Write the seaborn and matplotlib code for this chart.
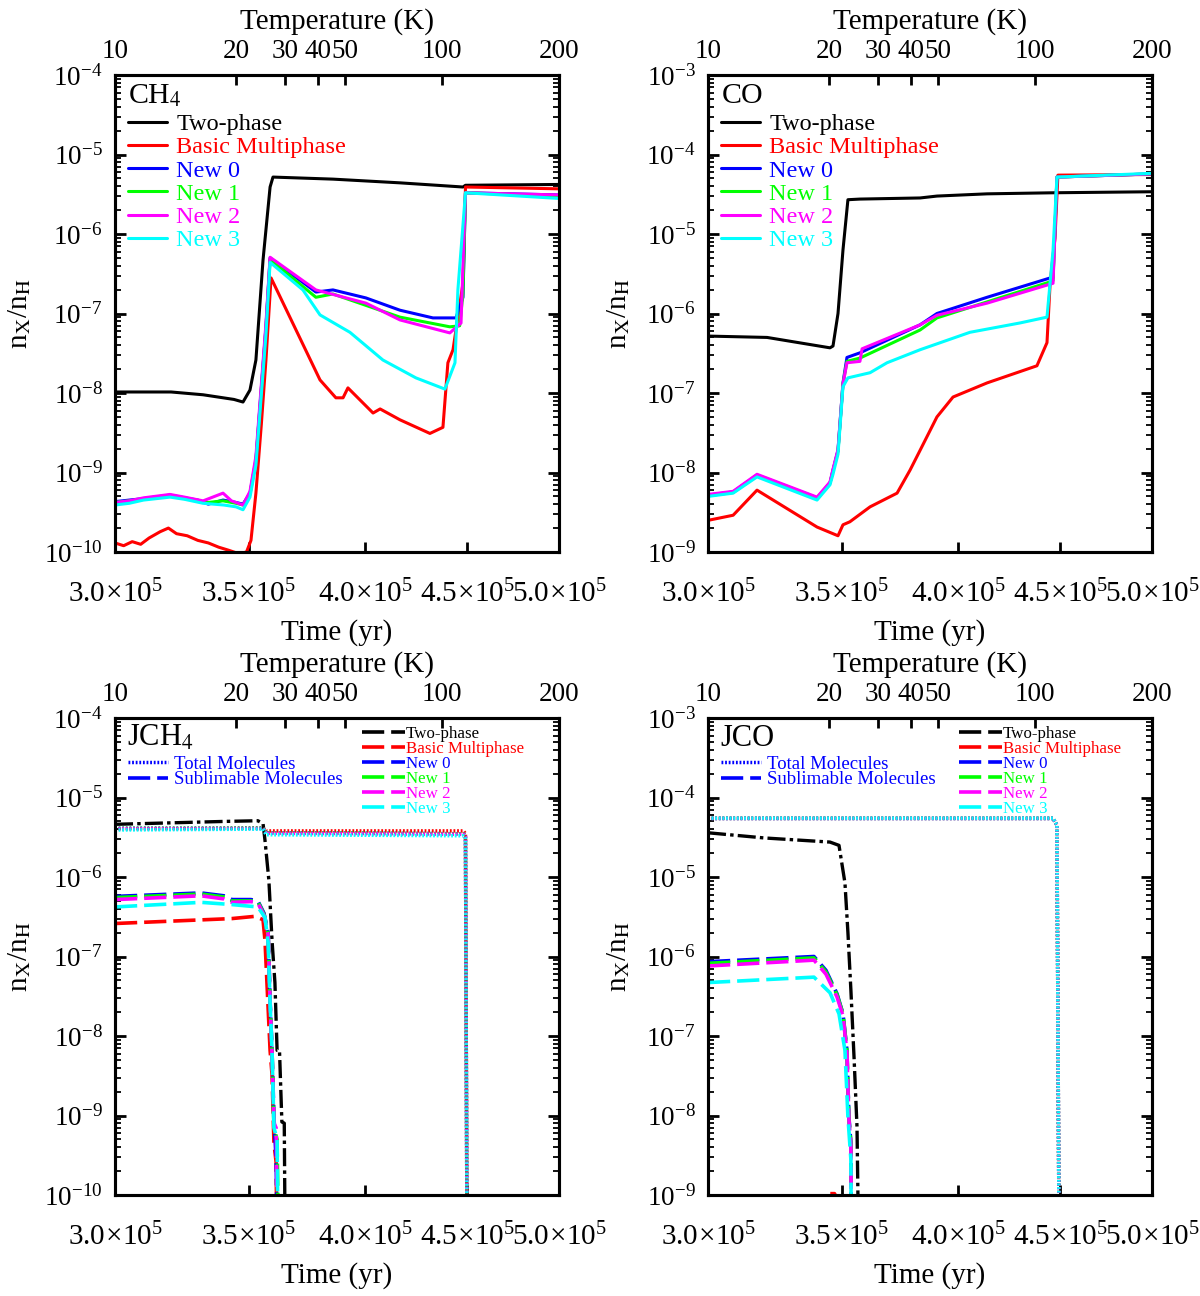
import numpy as np
import matplotlib
matplotlib.use("Agg")
import matplotlib.pyplot as plt
from matplotlib.lines import Line2D
from matplotlib.ticker import FixedLocator, FixedFormatter, NullLocator, LogLocator, LogFormatterSciNotation
import seaborn as sns

sns.set_theme(style="ticks", rc={"axes.edgecolor": "black", "xtick.color": "black",
                                 "ytick.color": "black", "text.color": "black",
                                 "axes.labelcolor": "black"})
plt.rcParams['font.family'] = ['Liberation Serif', 'DejaVu Serif']
plt.rcParams['mathtext.fontset'] = 'stix'
plt.rcParams['lines.scale_dashes'] = False
plt.rcParams['axes.linewidth'] = 2.2

# ---------------- labels / ticks ----------------
MODELS = ["Two-phase", "Basic Multiphase", "New 0", "New 1", "New 2", "New 3"]
COLORS = ["#000000", "#FF0000", "#0000FF", "#00FF00", "#FF00FF", "#00FFFF"]
time_ticks_1e5 = [3.0, 3.5, 4.0, 4.5, 5.0]
time_tick_labels = [r"$\mathdefault{3.0\!\times\!10^{5}}$", r"$\mathdefault{3.5\!\times\!10^{5}}$",
                    r"$\mathdefault{4.0\!\times\!10^{5}}$", r"$\mathdefault{4.5\!\times\!10^{5}}$",
                    r"$\mathdefault{5.0\!\times\!10^{5}}$"]
temp_tick_labels = ["10", "20", "30", "40", "50", "100", "200"]
temp_tick_times_1e5 = [3.00, 3.45, 3.65, 3.79, 3.91, 4.37, 5.00]

# ---------------- CH4 gas (times in 1e5 yr) ----------------
ch4_two_t = [3.00, 3.20, 3.32, 3.44, 3.476, 3.504, 3.528, 3.557, 3.586, 3.598, 3.855, 4.164, 4.477, 4.49, 5.00]
ch4_two_v = [1.03e-8, 1.03e-8, 9.5e-9, 8.3e-9, 7.7e-9, 1.09e-8, 2.6e-8, 4.7e-7, 3.9e-6, 5.2e-6, 4.9e-6, 4.4e-6, 3.9e-6, 4.1e-6, 4.2e-6]
ch4_bm_t = [3.00, 3.03, 3.06, 3.09, 3.12, 3.16, 3.19, 3.22, 3.26, 3.30, 3.34, 3.38, 3.42, 3.46, 3.49, 3.508, 3.528, 3.55, 3.569, 3.59,
            3.798, 3.868, 3.90, 3.922, 4.037, 4.070, 4.164, 4.31, 4.375, 4.40, 4.426, 4.477, 4.49, 5.00]
ch4_bm_v = [1.3e-10, 1.2e-10, 1.35e-10, 1.25e-10, 1.5e-10, 1.8e-10, 2.0e-10, 1.7e-10, 1.6e-10, 1.4e-10, 1.3e-10, 1.15e-10, 1.05e-10,
            0.95e-10, 1.0e-10, 1.4e-10, 5.5e-10, 4.0e-9, 2.6e-8, 2.8e-7, 1.46e-8, 8.7e-9, 8.7e-9, 1.16e-8, 5.6e-9, 6.3e-9, 4.6e-9,
            3.1e-9, 3.7e-9, 2.4e-8, 3.5e-8, 2.4e-7, 3.9e-6, 3.7e-6]
ch4_n0_t = [3.00, 3.05, 3.10, 3.196, 3.25, 3.30, 3.34, 3.397, 3.448, 3.476, 3.504, 3.528, 3.569, 3.586, 3.78, 3.855, 4.004, 4.164,
            4.325, 4.441, 4.477, 4.49, 5.00]
ch4_n0_v = [4.3e-10, 4.5e-10, 4.7e-10, 5.2e-10, 4.8e-10, 4.5e-10, 4.0e-10, 4.5e-10, 4.2e-10, 4.0e-10, 5.5e-10, 1.44e-9, 6.8e-8,
            5.0e-7, 1.86e-7, 1.98e-7, 1.57e-7, 1.1e-7, 8.8e-8, 8.8e-8, 1.6e-7, 3.3e-6, 3.1e-6]
ch4_n1_t = [3.00, 3.05, 3.10, 3.196, 3.25, 3.30, 3.34, 3.397, 3.448, 3.476, 3.504, 3.528, 3.569, 3.586, 3.78, 3.855, 4.164, 4.41,
            4.46, 4.477, 4.49, 5.00]
ch4_n1_v = [4.2e-10, 4.4e-10, 4.6e-10, 5.1e-10, 4.7e-10, 4.4e-10, 4.2e-10, 4.4e-10, 4.1e-10, 3.9e-10, 5.3e-10, 1.4e-9, 6.5e-8,
            4.8e-7, 1.6e-7, 1.76e-7, 9.0e-8, 6.8e-8, 7.0e-8, 1.8e-7, 3.3e-6, 3.0e-6]
ch4_n2_t = [3.00, 3.05, 3.10, 3.196, 3.25, 3.32, 3.397, 3.43, 3.476, 3.504, 3.528, 3.569, 3.586, 3.78, 4.004, 4.164, 4.41, 4.467,
            4.49, 5.00]
ch4_n2_v = [4.2e-10, 4.4e-10, 4.8e-10, 5.3e-10, 4.9e-10, 4.4e-10, 5.5e-10, 4.4e-10, 3.9e-10, 5.8e-10, 1.6e-9, 7.5e-8, 5.1e-7,
            1.98e-7, 1.35e-7, 8.3e-8, 5.7e-8, 7.6e-8, 3.3e-6, 3.1e-6]
ch4_n3_t = [3.00, 3.05, 3.10, 3.196, 3.25, 3.32, 3.40, 3.448, 3.476, 3.504, 3.528, 3.569, 3.586, 3.724, 3.798, 3.931, 4.083, 4.241,
            4.385, 4.436, 4.451, 4.49, 5.00]
ch4_n3_v = [3.9e-10, 4.1e-10, 4.5e-10, 4.9e-10, 4.6e-10, 4.1e-10, 3.9e-10, 3.7e-10, 3.4e-10, 4.9e-10, 1.24e-9, 5.4e-8, 4.4e-7,
            1.98e-7, 9.6e-8, 5.8e-8, 2.6e-8, 1.55e-8, 1.12e-8, 2.4e-8, 2.0e-7, 3.3e-6, 2.8e-6]

# ---------------- CO gas ----------------
co_two_t = [3.00, 3.211, 3.452, 3.464, 3.484, 3.504, 3.524, 3.573, 3.829, 3.904, 4.136, 4.462, 5.00]
co_two_v = [5.2e-7, 5.0e-7, 3.7e-7, 3.9e-7, 1.0e-6, 6.3e-6, 2.7e-5, 2.75e-5, 2.84e-5, 3.0e-5, 3.2e-5, 3.3e-5, 3.4e-5]
co_bm_t = [3.00, 3.088, 3.174, 3.401, 3.484, 3.504, 3.532, 3.615, 3.729, 3.785, 3.829, 3.904, 3.977, 4.136, 4.38, 4.431, 4.447,
           4.472, 4.487, 5.00]
co_bm_v = [2.5e-9, 2.9e-9, 6.0e-9, 2.06e-9, 1.6e-9, 2.2e-9, 2.4e-9, 3.7e-9, 5.5e-9, 1.07e-8, 1.9e-8, 5.0e-8, 8.9e-8, 1.34e-7,
           2.2e-7, 4.3e-7, 2.4e-6, 8.9e-6, 5.5e-5, 5.6e-5]
co_n0_t = [3.00, 3.088, 3.174, 3.401, 3.452, 3.464, 3.484, 3.504, 3.52, 3.573, 3.829, 3.904, 4.136, 4.447, 4.462, 4.482, 5.00]
co_n0_v = [5.2e-9, 5.7e-9, 9.3e-9, 4.8e-9, 7.4e-9, 1.07e-8, 1.9e-8, 1.34e-7, 2.8e-7, 3.2e-7, 7.2e-7, 1.0e-6, 1.6e-6, 2.8e-6,
           2.8e-6, 5.2e-5, 5.7e-5]
co_n1_t = [3.00, 3.088, 3.174, 3.401, 3.452, 3.464, 3.484, 3.504, 3.52, 3.573, 3.829, 3.904, 4.136, 4.447, 4.462, 4.482, 5.00]
co_n1_v = [5.1e-9, 5.6e-9, 9.1e-9, 4.7e-9, 7.3e-9, 1.05e-8, 1.85e-8, 1.3e-7, 2.5e-7, 2.75e-7, 6.2e-7, 8.8e-7, 1.4e-6, 2.5e-6,
           2.6e-6, 5.2e-5, 5.7e-5]
co_n2_t = [3.00, 3.088, 3.174, 3.401, 3.452, 3.464, 3.484, 3.504, 3.52, 3.573, 3.582, 3.829, 3.904, 4.136, 4.462, 4.482, 5.00]
co_n2_v = [5.3e-9, 5.8e-9, 9.5e-9, 4.9e-9, 7.6e-9, 1.1e-8, 1.95e-8, 1.3e-7, 2.4e-7, 2.5e-7, 3.6e-7, 7.2e-7, 9.5e-7, 1.35e-6,
           2.4e-6, 5.2e-5, 5.7e-5]
co_n3_t = [3.00, 3.088, 3.174, 3.401, 3.452, 3.464, 3.484, 3.504, 3.524, 3.615, 3.686, 3.829, 4.055, 4.295, 4.431, 4.462, 4.482, 5.00]
co_n3_v = [5.0e-9, 5.5e-9, 8.8e-9, 4.5e-9, 7.0e-9, 9.5e-9, 1.7e-8, 1.2e-7, 1.55e-7, 1.8e-7, 2.4e-7, 3.5e-7, 5.8e-7, 7.6e-7,
           9.0e-7, 6.3e-6, 5.2e-5, 5.8e-5]

# ---------------- JCH4 ice ----------------
jch4_tot_t = [3.00, 3.557, 3.57, 4.48, 4.49, 4.50]
jch4_tot_bm = [4.0e-6, 4.1e-6, 3.8e-6, 3.8e-6, 3.5e-6, 1e-12]
jch4_tot_n0 = [4.1e-6, 4.1e-6, 3.6e-6, 3.5e-6, 3.2e-6, 1e-12]
jch4_tot_n1 = [4.1e-6, 4.1e-6, 3.6e-6, 3.5e-6, 3.2e-6, 1e-12]
jch4_tot_n2 = [4.05e-6, 4.05e-6, 3.55e-6, 3.45e-6, 3.2e-6, 1e-12]
jch4_tot_n3 = [3.9e-6, 4.0e-6, 3.4e-6, 3.3e-6, 3.0e-6, 1e-12]
jch4_two_t = [3.00, 3.20, 3.40, 3.536, 3.557, 3.565, 3.581, 3.594, 3.606, 3.615, 3.625, 3.635, 3.645, 3.652]
jch4_two_v = [4.6e-6, 4.8e-6, 5.0e-6, 5.1e-6, 4.7e-6, 2.9e-6, 9.1e-7, 1.6e-7, 4.7e-8, 6.6e-9, 6.6e-9, 8.3e-10, 8.0e-10, 1e-12]
jch4_bm_t = [3.00, 3.432, 3.524, 3.557, 3.565, 3.586, 3.594, 3.602, 3.611, 3.619]
jch4_bm_v = [2.6e-7, 3.0e-7, 3.2e-7, 2.9e-7, 1.6e-7, 6.6e-9, 3.3e-9, 4.5e-10, 2.6e-10, 1e-12]
jch4_n0_t = [3.00, 3.312, 3.401, 3.432, 3.508, 3.536, 3.561, 3.578, 3.586, 3.594, 3.602, 3.611, 3.623]
jch4_n0_v = [5.7e-7, 6.3e-7, 5.8e-7, 5.2e-7, 5.2e-7, 5.0e-7, 3.5e-7, 2.0e-7, 2.8e-8, 6.6e-9, 9.6e-10, 2.8e-10, 1e-12]
jch4_n1_t = [3.00, 3.312, 3.401, 3.432, 3.508, 3.536, 3.561, 3.578, 3.586, 3.594, 3.602, 3.615, 3.627]
jch4_n1_v = [5.5e-7, 6.1e-7, 5.6e-7, 5.0e-7, 5.0e-7, 4.9e-7, 3.4e-7, 1.9e-7, 2.6e-8, 6.5e-9, 7e-10, 5e-10, 1e-12]
jch4_n2_t = [3.00, 3.312, 3.401, 3.432, 3.508, 3.536, 3.561, 3.578, 3.586, 3.594, 3.602, 3.611, 3.623]
jch4_n2_v = [5.2e-7, 5.8e-7, 5.3e-7, 4.8e-7, 4.9e-7, 4.7e-7, 3.3e-7, 1.9e-7, 2.7e-8, 6.0e-9, 8e-10, 7e-10, 1e-12]
jch4_n3_t = [3.00, 3.312, 3.432, 3.536, 3.565, 3.578, 3.586, 3.594, 3.602, 3.615, 3.623]
jch4_n3_v = [4.2e-7, 4.8e-7, 4.5e-7, 4.2e-7, 3.1e-7, 1.5e-7, 2.6e-8, 6.6e-9, 7e-10, 5e-10, 1e-12]

# ---------------- JCO ice ----------------
jco_tot_t = [3.00, 4.462, 4.482, 4.498]
jco_tot_bm = [5.5e-5, 5.5e-5, 4.5e-5, 1e-12]
jco_tot_n0 = [5.45e-5, 5.45e-5, 4.5e-5, 1e-12]
jco_tot_n1 = [5.45e-5, 5.45e-5, 4.5e-5, 1e-12]
jco_tot_n2 = [5.45e-5, 5.45e-5, 4.5e-5, 1e-12]
jco_tot_n3 = [5.5e-5, 5.5e-5, 4.5e-5, 1e-12]
jco_two_t = [3.00, 3.20, 3.452, 3.488, 3.512, 3.524, 3.536, 3.549, 3.561, 3.578]
jco_two_v = [3.6e-5, 3.1e-5, 2.75e-5, 2.5e-5, 8.4e-6, 2.0e-6, 3.8e-7, 5.3e-8, 7.2e-9, 1e-12]
jco_bm_t = [3.00, 3.44, 3.45, 3.47, 3.48, 3.55]
jco_bm_v = [1e-12, 9e-10, 1.04e-9, 1.04e-9, 9e-10, 1e-12]
jco_n0_t = [3.00, 3.389, 3.436, 3.480, 3.504, 3.520, 3.528, 3.536, 3.541]
jco_n0_v = [8.6e-7, 1.0e-6, 6.7e-7, 3.4e-7, 1.9e-7, 6.6e-8, 9.6e-9, 4.5e-9, 1e-12]
jco_n1_t = [3.00, 3.389, 3.436, 3.480, 3.504, 3.520, 3.528, 3.536, 3.541]
jco_n1_v = [8.2e-7, 9.6e-7, 6.4e-7, 3.3e-7, 1.9e-7, 6.5e-8, 9.0e-9, 4.5e-9, 1e-12]
jco_n2_t = [3.00, 3.389, 3.436, 3.480, 3.504, 3.520, 3.528, 3.536, 3.541]
jco_n2_v = [7.6e-7, 9.0e-7, 6.0e-7, 3.1e-7, 1.8e-7, 6.2e-8, 9.0e-9, 4.2e-9, 1e-12]
jco_n3_t = [3.00, 3.389, 3.452, 3.488, 3.512, 3.524, 3.536, 3.541]
jco_n3_v = [4.7e-7, 5.5e-7, 3.5e-7, 1.9e-7, 6.6e-8, 9.6e-9, 2.8e-9, 1e-12]

# ---------------- styles ----------------
LW_SOLID = 2.2
DOT = (0, (1.3, 1.3))
DASH = (0, (16, 5))
DASHDOT = (0, (13, 3, 2.5, 3))


def draw(ax, t, v, color, ls="-", lw=LW_SOLID):
    sns.lineplot(x=np.asarray(t) * 1e5, y=np.asarray(v), ax=ax, color=color, linestyle=ls,
                 linewidth=lw, estimator=None, sort=False, legend=False)


fig = plt.figure(figsize=(12, 12.96), dpi=100)
W, H = 1200.0, 1296.0
pos = {
    "tl": [115 / W, 1 - 552 / H, 444 / W, 477 / H],
    "tr": [708 / W, 1 - 552 / H, 444 / W, 477 / H],
    "bl": [115 / W, 1 - 1195 / H, 444 / W, 477 / H],
    "br": [708 / W, 1 - 1195 / H, 444 / W, 477 / H],
}
axes = {k: fig.add_axes(p) for k, p in pos.items()}
for ax in axes.values():
    ax.set_xscale("log")
    ax.set_yscale("log")
    ax.set_facecolor("white")

# top-left CH4
ax = axes["tl"]
for (t, v), c in zip([(ch4_two_t, ch4_two_v), (ch4_bm_t, ch4_bm_v), (ch4_n0_t, ch4_n0_v),
                      (ch4_n1_t, ch4_n1_v), (ch4_n2_t, ch4_n2_v), (ch4_n3_t, ch4_n3_v)], COLORS):
    draw(ax, t, v, c)
# top-right CO
ax = axes["tr"]
for (t, v), c in zip([(co_two_t, co_two_v), (co_bm_t, co_bm_v), (co_n0_t, co_n0_v),
                      (co_n1_t, co_n1_v), (co_n2_t, co_n2_v), (co_n3_t, co_n3_v)], COLORS):
    draw(ax, t, v, c)
# bottom-left JCH4
ax = axes["bl"]
draw(ax, jch4_two_t, jch4_two_v, COLORS[0], DASHDOT, 2.4)
for tot, (t, v), c in zip([jch4_tot_bm, jch4_tot_n0, jch4_tot_n1, jch4_tot_n2, jch4_tot_n3],
                          [(jch4_bm_t, jch4_bm_v), (jch4_n0_t, jch4_n0_v), (jch4_n1_t, jch4_n1_v),
                           (jch4_n2_t, jch4_n2_v), (jch4_n3_t, jch4_n3_v)], COLORS[1:]):
    draw(ax, jch4_tot_t, tot, c, DOT, 2.5)
    draw(ax, t, v, c, DASH, 2.6)
# bottom-right JCO
ax = axes["br"]
draw(ax, jco_two_t, jco_two_v, COLORS[0], DASHDOT, 2.4)
for tot, (t, v), c in zip([jco_tot_bm, jco_tot_n0, jco_tot_n1, jco_tot_n2, jco_tot_n3],
                          [(jco_bm_t, jco_bm_v), (jco_n0_t, jco_n0_v), (jco_n1_t, jco_n1_v),
                           (jco_n2_t, jco_n2_v), (jco_n3_t, jco_n3_v)], COLORS[1:]):
    draw(ax, jco_tot_t, tot, c, DOT, 2.5)
    draw(ax, t, v, c, DASH, 2.6)

ylims = {"tl": (1e-10, 1e-4), "tr": (1e-9, 1e-3), "bl": (1e-10, 1e-4), "br": (1e-9, 1e-3)}
TICK_FS = 19.5
XTICK_FS = 21
LAB_FS = 21

for k, ax in axes.items():
    ax.set_xlim(3e5, 5e5)
    ax.set_ylim(*ylims[k])
    ax.xaxis.set_major_locator(FixedLocator([x * 1e5 for x in time_ticks_1e5]))
    ax.xaxis.set_major_formatter(FixedFormatter(time_tick_labels))
    ax.xaxis.set_minor_locator(NullLocator())
    ax.yaxis.set_major_locator(LogLocator(base=10, numticks=20))
    ax.yaxis.set_minor_locator(LogLocator(base=10, subs=np.arange(2, 10), numticks=20))
    ax.yaxis.set_major_formatter(LogFormatterSciNotation())
    ax.tick_params(axis="y", which="both", direction="in", left=True, right=True)
    ax.tick_params(axis="y", which="major", length=8, width=2.0, labelsize=TICK_FS, pad=9)
    ax.tick_params(axis="y", which="minor", length=4, width=1.3)
    ax.tick_params(axis="x", which="major", direction="in", length=7, width=2.0,
                   labelsize=XTICK_FS, pad=20, top=False)
    for s in ax.spines.values():
        s.set_linewidth(2.2)
        s.set_color("black")
    ax.set_xlabel("Time (yr)", fontsize=LAB_FS)
    ax.xaxis.set_label_coords(0.5, -0.14)
    ax.set_ylabel(r"n$_\mathrm{X}$/n$_\mathrm{H}$", fontsize=LAB_FS)
    ax.yaxis.set_label_coords(-0.185 if k in ("tl", "bl") else -0.17, 0.5)

    ax2 = ax.twiny()
    ax2.set_xscale("log")
    ax2.set_xlim(3e5, 5e5)
    ax2.xaxis.set_major_locator(FixedLocator([x * 1e5 for x in temp_tick_times_1e5]))
    ax2.xaxis.set_major_formatter(FixedFormatter(temp_tick_labels))
    ax2.xaxis.set_minor_locator(NullLocator())
    ax2.tick_params(axis="x", which="major", direction="in", length=7, width=2.0,
                    labelsize=TICK_FS, pad=8)
    for s in ax2.spines.values():
        s.set_linewidth(2.2)
        s.set_color("black")
    ax2.set_xlabel("Temperature (K)", fontsize=LAB_FS)
    ax2.xaxis.set_label_coords(0.5, 1.097)

# ---- top legends ----
for k, title in (("tl", r"CH$_4$"), ("tr", "CO")):
    ax = axes[k]
    ax.text(0.03, 0.941, title, transform=ax.transAxes, fontsize=21.5, va="baseline", ha="left")
    handles = [Line2D([0], [0], color=c, lw=2.2) for c in COLORS]
    ax.legend(handles, MODELS, loc="upper left", bbox_to_anchor=(0.029, 0.92), frameon=False,
              fontsize=17.5, handlelength=1.6, handletextpad=0.4, labelspacing=0.05,
              borderpad=0, borderaxespad=0, labelcolor="linecolor")

# ---- bottom legends ----
for k, title, rx in (("bl", r"JCH$_4$", 0.556), ("br", "JCO", 0.565)):
    ax = axes[k]
    ax.text(0.028, 0.941, title, transform=ax.transAxes, fontsize=22, va="baseline", ha="left")
    h1 = [Line2D([0], [0], color=COLORS[2], lw=2.5, ls=DOT),
          Line2D([0], [0], color=COLORS[2], lw=2.6, ls=DASH)]
    leg1 = ax.legend(h1, ["Total Molecules", "Sublimable Molecules"], loc="upper left",
                     bbox_to_anchor=(0.03, 0.921), frameon=False, fontsize=13.5, handlelength=2.1,
                     handletextpad=0.35, labelspacing=-0.09, borderpad=0, borderaxespad=0,
                     labelcolor="linecolor")
    ax.add_artist(leg1)
    h2 = [Line2D([0], [0], color=c, lw=2.6, ls=DASH) for c in COLORS]
    ax.legend(h2, MODELS, loc="upper left", bbox_to_anchor=(rx, 0.984), frameon=False,
              fontsize=12.2, handlelength=2.55, handletextpad=0.05, labelspacing=-0.06,
              borderpad=0, borderaxespad=0, labelcolor="linecolor")

fig.savefig("out.png", dpi=100, facecolor="white")
